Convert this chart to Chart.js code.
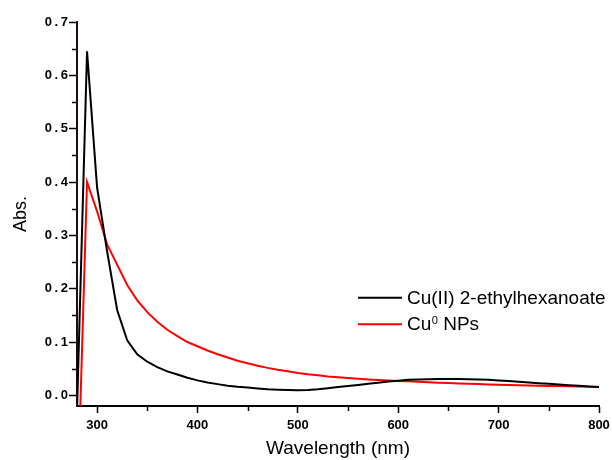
<!DOCTYPE html>
<html>
<head>
<meta charset="utf-8">
<script src="https://cdn.jsdelivr.net/npm/chart.js@4.4.0/dist/chart.umd.min.js"></script>
<style>
  html, body { margin: 0; padding: 0; background: #fff; }
</style>
</head>
<body>
<canvas id="uvvis" width="612" height="460"></canvas>
<script>
// wavelength (nm), sampled every 10 nm
const WAVELENGTHS = [280, 290, 300, 310, 320, 330, 340, 350, 360, 370, 380, 390, 400,
    410, 420, 430, 440, 450, 460, 470, 480, 490, 500,
    510, 520, 530, 540, 550, 560, 570, 580, 590, 600,
    610, 620, 630, 640, 650, 660, 670, 680, 690, 700,
    710, 720, 730, 740, 750, 760, 770, 780, 790, 800];

// absorbance, Cu(II) 2-ethylhexanoate
const CU2_ABS = [-0.03, 0.645, 0.39, 0.27, 0.16, 0.103, 0.077, 0.063, 0.053, 0.045, 0.039, 0.033, 0.028,
    0.024, 0.021, 0.018, 0.016, 0.0145, 0.013, 0.0115, 0.0105, 0.0098, 0.0095,
    0.01, 0.0115, 0.0135, 0.0155, 0.0175, 0.0195, 0.0215, 0.0235, 0.0258, 0.0275,
    0.029, 0.0298, 0.0302, 0.0304, 0.0305, 0.0304, 0.0302, 0.0298, 0.029, 0.028,
    0.0268, 0.0255, 0.024, 0.0228, 0.0215, 0.0202, 0.019, 0.0178, 0.0166, 0.0156];

// absorbance, Cu0 nanoparticles
const NPS_ABS = [-0.23, 0.40, 0.345, 0.283, 0.245, 0.207, 0.178, 0.156, 0.138, 0.123, 0.111, 0.1, 0.092,
    0.084, 0.077, 0.071, 0.065, 0.06, 0.0555, 0.0515, 0.048, 0.045, 0.042,
    0.0395, 0.0375, 0.0355, 0.034, 0.0325, 0.031, 0.0298, 0.0288, 0.0278, 0.027,
    0.0262, 0.0254, 0.0246, 0.0238, 0.0231, 0.0224, 0.0217, 0.0211, 0.0205, 0.0198,
    0.0193, 0.0189, 0.0185, 0.0181, 0.0177, 0.0173, 0.0169, 0.0165, 0.0161, 0.0157];

const SERIES_NAMES = ['Cu(II) 2-ethylhexanoate', 'Cu\u2070 NPs'];
const SERIES_COLORS = ['#000000', '#ff0000'];

const X_TITLE = 'Wavelength (nm)';
const Y_TITLE = 'Abs.';

const FONT = "'Liberation Sans', Arial, sans-serif";

function toPoints(ys) {
    return WAVELENGTHS.map((x, i) => ({ x: x, y: ys[i] }));
}

// short ticks half way between the labelled ones
const minorTicks = {
    id: 'minorTicks',
    afterDraw(chart) {
        const ctx = chart.ctx;
        ctx.save();
        ctx.strokeStyle = '#000';
        ctx.lineWidth = 1.5;
        const xs = chart.scales.x, ys = chart.scales.y;
        for (let i = 0; i < ys.ticks.length - 1; i++) {
            const py = Math.round(ys.getPixelForValue((ys.ticks[i].value + ys.ticks[i + 1].value) / 2)) + 0.5;
            ctx.beginPath();
            ctx.moveTo(ys.right - 5, py);
            ctx.lineTo(ys.right, py);
            ctx.stroke();
        }
        for (let i = 0; i < xs.ticks.length - 1; i++) {
            const px = Math.round(xs.getPixelForValue((xs.ticks[i].value + xs.ticks[i + 1].value) / 2)) + 0.5;
            ctx.beginPath();
            ctx.moveTo(px, xs.top);
            ctx.lineTo(px, xs.top + 5);
            ctx.stroke();
        }
        ctx.restore();
    }
};

// legend sitting inside the plot, with the superscript zero
const insetLegend = {
    id: 'insetLegend',
    afterDraw(chart) {
        const ctx = chart.ctx;
        const lineY = [297.7, 324.3];
        const baseY = [303.5, 330];
        ctx.save();
        chart.data.datasets.forEach(function (ds, i) {
            ctx.strokeStyle = ds.borderColor;
            ctx.lineWidth = 2;
            ctx.beginPath();
            ctx.moveTo(358, lineY[i]);
            ctx.lineTo(402, lineY[i]);
            ctx.stroke();

            ctx.fillStyle = '#000';
            ctx.textBaseline = 'alphabetic';
            ctx.textAlign = 'left';
            const parts = ds.label.split('\u2070');
            let x = 407;
            ctx.font = '19px ' + FONT;
            ctx.fillText(parts[0], x, baseY[i]);
            x += ctx.measureText(parts[0]).width;
            if (parts.length > 1) {
                ctx.font = '11px ' + FONT;
                ctx.fillText('0', x + 0.5, baseY[i] - 6.5);
                x += ctx.measureText('0').width + 0.5;
                ctx.font = '19px ' + FONT;
                ctx.fillText(parts[1], x, baseY[i]);
            }
        });
        ctx.restore();
    }
};

Chart.defaults.color = '#000';
Chart.defaults.font.family = FONT;

const config = {
    type: 'line',
    data: {
        datasets: [
            { label: SERIES_NAMES[0], data: toPoints(CU2_ABS), borderColor: SERIES_COLORS[0], borderWidth: 2, pointRadius: 0, tension: 0 },
            { label: SERIES_NAMES[1], data: toPoints(NPS_ABS), borderColor: SERIES_COLORS[1], borderWidth: 2, pointRadius: 0, tension: 0 }
        ]
    },
    options: {
        responsive: false,
        animation: false,
        layout: {
            padding: { left: 6, right: 13, top: 22, bottom: 0 }
        },
        plugins: {
            legend: { display: false },
            tooltip: { enabled: false }
        },
        scales: {
            x: {
                type: 'linear',
                min: 280,
                max: 800,
                grid: { display: true, drawOnChartArea: false, tickLength: 7, tickWidth: 1.5, tickColor: '#000' },
                border: { display: true, color: '#000', width: 2 },
                ticks: {
                    stepSize: 100,
                    includeBounds: false,
                    maxRotation: 0,
                    padding: 5,
                    font: { size: 13, weight: 'bold' }
                },
                title: {
                    display: true,
                    text: X_TITLE,
                    font: { size: 19 },
                    padding: { top: 0, bottom: 0 }
                },
                afterFit(scale) {
                    scale.height = 54;
                    scale.paddingLeft = 0;
                    scale.paddingRight = 0;
                }
            },
            y: {
                min: -0.02,
                max: 0.7,
                grid: { display: true, drawOnChartArea: false, tickLength: 8, tickWidth: 1.5, tickColor: '#000' },
                border: { display: true, color: '#2a0808', width: 2 },
                ticks: {
                    stepSize: 0.1,
                    includeBounds: false,
                    padding: 1,
                    font: { size: 13, weight: 'bold' },
                    callback: function (value) {
                        return value.toFixed(1).split('').join('\u2009');
                    }
                },
                title: {
                    display: true,
                    text: Y_TITLE,
                    font: { size: 18 },
                    padding: { top: 4, bottom: 4 }
                },
                afterFit(scale) { scale.width = 71; }
            }
        }
    },
    plugins: [minorTicks, insetLegend]
};

const uvChart = new Chart(document.getElementById('uvvis'), config);
</script>
</body>
</html>
